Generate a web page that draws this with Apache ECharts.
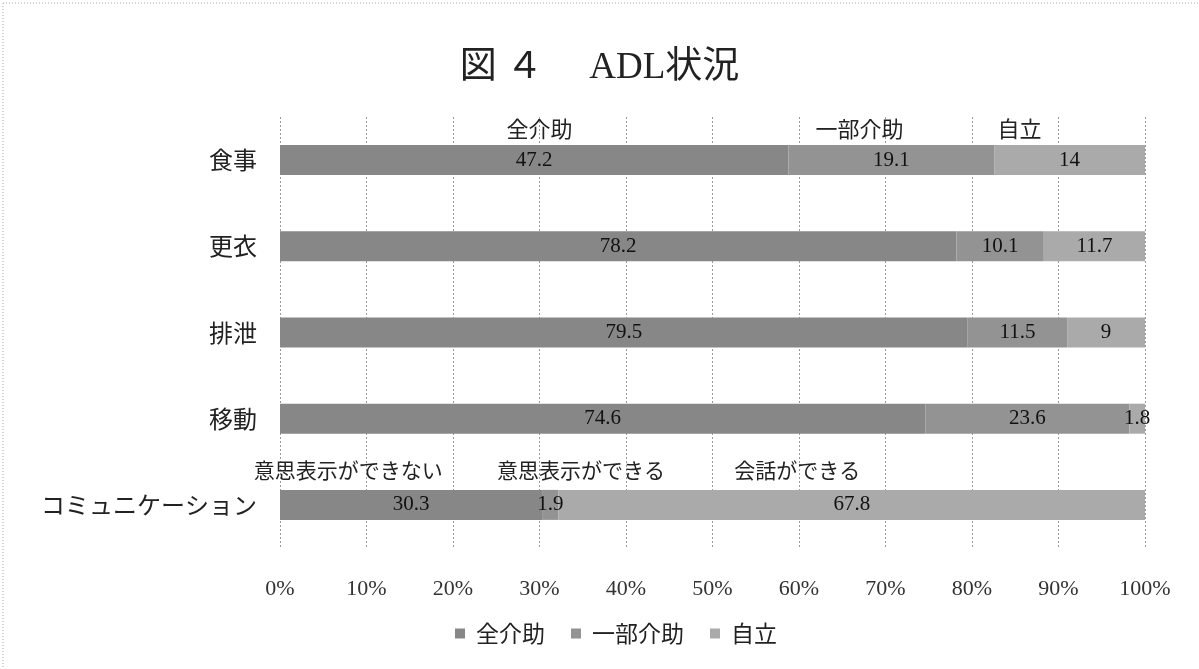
<!DOCTYPE html>
<html><head><meta charset="utf-8">
<script src="https://cdn.jsdelivr.net/npm/echarts@6/dist/echarts.min.js"></script>
<style>html,body{margin:0;padding:0;background:#fff}#c{width:1199px;height:669px}</style>
</head><body><div id="c"></div>
<script>
const categories = ['食事', '更衣', '排泄', '移動', 'コミュニケーション'];
const seriesNames = ['全介助', '一部介助', '自立'];
const zenKaijo = [47.2, 78.2, 79.5, 74.6, 30.3];
const ichibuKaijo = [19.1, 10.1, 11.5, 23.6, 1.9];
const jiritsu = [14, 11.7, 9, 1.8, 67.8];
const tickLabels = ['0%', '10%', '20%', '30%', '40%', '50%', '60%', '70%', '80%', '90%', '100%'];
const topNotes = ['全介助', '一部介助', '自立'];
const topNotePos = [30.0, 67.0, 85.5];
const commNotes = ['意思表示ができない', '意思表示ができる', '会話ができる'];
const commNotePos = [7.9, 34.8, 59.8];

const raw = [zenKaijo, ichibuKaijo, jiritsu];
const totals = categories.map((c, i) => raw.reduce((s, a) => s + a[i], 0));
const colors = ['#878787', '#939393', '#aaaaaa'];
const serif = "'Liberation Serif','DejaVu Serif','Noto Sans CJK JP',serif";
const cjk = "'Noto Sans CJK JP','Liberation Serif',serif";

const chart = echarts.init(document.getElementById('c'));
const series = raw.map((arr, k) => ({
  name: seriesNames[k],
  type: 'bar',
  stack: 'all',
  barWidth: 30,
  itemStyle: { color: colors[k] },
  label: {
    show: true, position: 'inside', color: '#111', fontFamily: serif, fontSize: 21,
    formatter: p => String(arr[p.dataIndex])
  },
  data: arr.map((v, i) => v / totals[i] * 100)
}));

chart.setOption({
  animation: false,
  backgroundColor: '#fff',
  title: {
    text: '図 ４　 ADL状況', left: 'center', top: 45,
    textStyle: { fontFamily: serif, fontSize: 37, fontWeight: 'normal', color: '#222' }
  },
  legend: {
    data: seriesNames, top: 617, left: 450, itemWidth: 10, itemHeight: 10, itemGap: 26,
    icon: 'rect', textStyle: { fontFamily: cjk, fontSize: 23, color: '#222', padding: [0, 0, 0, 6] }
  },
  grid: { left: 280, right: 54, top: 117, bottom: 121 },
  xAxis: {
    type: 'value', min: 0, max: 100, interval: 10,
    axisLine: { show: false }, axisTick: { show: false },
    splitLine: { show: true, lineStyle: { color: '#999', type: [2, 2], width: 1 } },
    axisLabel: { margin: 30, fontFamily: serif, fontSize: 22, color: '#333',
      formatter: v => tickLabels[Math.round(v / 10)] }
  },
  yAxis: {
    type: 'category', data: categories, inverse: true,
    axisLine: { show: false }, axisTick: { show: false },
    axisLabel: { margin: 23, fontFamily: cjk, fontSize: 24, color: '#222' }
  },
  series: series
});

const g = [];
topNotes.forEach((t, i) => {
  const p = chart.convertToPixel({ gridIndex: 0 }, [topNotePos[i], categories[0]]);
  g.push({ type: 'text', x: p[0], y: p[1] - 31, style: { text: t, fontFamily: cjk, fontSize: 22, fill: '#222', align: 'center', verticalAlign: 'middle' } });
});
commNotes.forEach((t, i) => {
  const p = chart.convertToPixel({ gridIndex: 0 }, [commNotePos[i], categories[4]]);
  g.push({ type: 'text', x: p[0], y: p[1] - 35, style: { text: t, fontFamily: cjk, fontSize: 21, fill: '#222', align: 'center', verticalAlign: 'middle' } });
});
g.push({ type: 'line', shape: { x1: 3, y1: 3, x2: 1199, y2: 3 }, style: { stroke: '#aaa', lineDash: [1, 2], lineWidth: 1 } });
g.push({ type: 'line', shape: { x1: 3, y1: 3, x2: 3, y2: 669 }, style: { stroke: '#aaa', lineDash: [1, 2], lineWidth: 1 } });
chart.setOption({ graphic: g });
</script>
</body></html>
